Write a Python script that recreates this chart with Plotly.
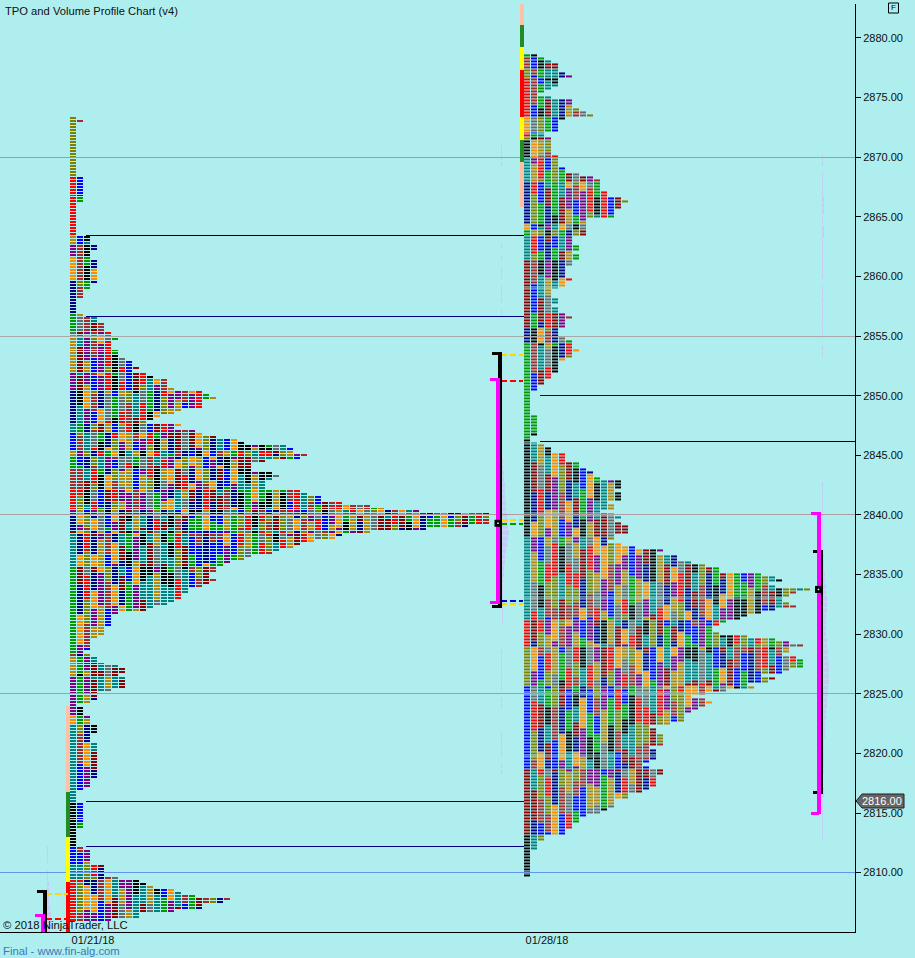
import plotly.graph_objects as go

# ---------- palette of the half-hour periods (cycle order of the chart) ----------
PERIOD_NAMES = ["teal", "maroon", "navy", "orange", "purple", "gold", "gray",
                "red", "olive", "brown", "blue", "green", "black"]
PERIOD_COLORS = ["#008080", "#8B0000", "#000080", "#FF8C00", "#800080", "#B8860B", "#696969",
                 "#FF0000", "#808000", "#A52A2A", "#0000FF", "#009900", "#000000"]

# ---------- left profile (01/21/18): cells per 0.25 price row, top to bottom ----------
LEFT_TOP = 2873.25
LEFT_W = [1, 2, 1, 1, 1, 1, 1, 1, 1, 1, 1, 1, 1, 1, 1, 1, 1, 1, 1, 1,
          2, 2, 2, 2, 2, 2, 2, 2, 2, 1, 1, 1, 1, 1, 1, 1, 1, 1, 1, 1,
          3, 3, 3, 4, 4, 3, 3, 3, 4, 4, 4, 4, 4, 4, 4, 4, 3, 3, 2, 2, 2,
          1, 1, 1, 1, 1, 2, 4, 4, 5, 5,
          5, 6, 6, 7, 6, 6, 6, 7, 7, 7, 8, 9, 9, 10, 9, 11, 12, 14, 14, 14, 15,
          19, 20, 21, 19, 19, 19, 16, 15, 13, 12, 11, 16, 15, 18, 19, 21, 24, 25,
          31, 32, 32, 34, 33, 28, 26, 26, 26, 29, 30, 29, 28, 28, 28,
          33, 34, 36, 36, 39, 43, 45, 50, 60, 60, 60, 60, 57, 51, 43, 39, 38, 35, 33,
          32, 30, 29,
          26, 25, 23, 22, 21, 21, 20, 20, 21, 20, 19, 17, 17, 16,
          16, 15, 14, 12, 11, 7, 6, 6, 6, 6, 5, 5, 5, 4, 3, 3, 3, 3, 2, 3, 4, 4, 5,
          7, 8, 8, 7, 8, 8, 8, 8, 6, 4, 4, 4, 3, 1, 2, 2, 2, 3, 3, 3, 4, 4, 4, 3, 3, 3,
          4, 4, 4, 4, 4, 4, 4, 4, 4, 4, 4, 4, 3, 3, 3, 2, 1, 1, 1, 1,
          2, 2, 2, 2, 2, 2, 2, 2, 2, 1, 1, 1, 1, 1, 1, 2, 3, 3, 3, 3, 3, 5, 5, 5, 5, 7,
          10, 11, 12, 15, 16, 18, 23, 22, 19, 19, 15, 10, 10, 6]
LEFT_RUN_ROWS = [0, 20, 40, 43, 47, 55, 66, 72, 73, 86, 92, 103, 106, 112, 114, 118, 125,
                 132, 134, 139, 140, 151, 180, 181, 188, 201, 204, 230, 245, 251, 256]
LEFT_RUN_NAMES = ["olive", "red", "gold", "purple", "orange", "navy", "green", "gray", "gold",
                  "purple", "navy", "teal", "blue", "gold", "green", "brown", "red", "purple",
                  "navy", "maroon", "teal", "green", "brown", "gold", "purple", "orange", "teal",
                  "black", "blue", "teal", "red"]

# ---------- right profile (01/28/18) ----------
RIGHT_TOP = 2878.5
RIGHT_W = [2, 3, 4, 5, 5, 5, 6, 7, 5, 5, 5, 4, 3, 2, 4, 7, 7, 7, 8, 9, 10, 6, 5, 5, 5, 5, 3, 3, 4,
           4, 4, 4, 4, 4, 5,
           5, 5, 5, 6, 6, 8, 10, 11, 11, 11, 11, 12, 12, 14, 15, 14, 14, 13, 13, 13,
           9, 9, 9, 9, 9, 9, 7, 7, 7, 8, 8, 7, 8, 8, 7, 7, 6, 6, 6, 6, 7, 6, 6, 5, 4, 4, 4,
           5, 5, 4, 5, 5, 6, 7, 6, 6, 6, 5, 5, 5, 6, 7, 7, 7, 8, 7, 7, 6, 5, 5, 5, 5, 4, 4,
           3, 3, 2, 2,
           1, 1, 1, 1, 1, 1, 1, 1, 2, 2, 2, 2, 2, 2, 2, 1, 1,
           2, 3, 4, 4, 6, 6, 6, 8, 8, 9, 10, 10, 11, 14, 14, 14, 13, 14, 14, 14, 12, 13, 13,
           11, 13, 14, 13, 14, 15, 15, 15, 13, 13, 12, 14, 16, 20, 19, 22, 22, 24, 26, 28, 28,
           34, 36, 37, 35, 36, 41, 39, 38, 37, 37, 38, 39, 36, 34, 32, 31, 29, 28, 27, 27, 28,
           32, 36, 38, 40, 38, 38, 37, 39, 40, 40, 40, 38, 37, 34, 36, 35, 32, 33, 29, 26, 24,
           26, 27, 26, 25, 24, 23, 23, 23, 21, 18, 19, 19, 20, 20, 20, 20, 18, 19, 19, 19, 19,
           18, 17, 18, 20, 20, 19, 19, 19, 19, 18, 17, 15, 15, 13, 13, 13, 12, 11, 9, 8, 8, 7,
           7, 6, 6, 3, 3, 2, 2, 2, 1, 1, 1, 1, 1, 1, 1, 1, 1]
RIGHT_RUN_ROWS = [0, 1, 5, 8, 21, 26, 28, 29, 35, 43, 57, 59, 61, 69, 92, 97, 129, 162, 190,
                  199, 212, 240, 262]
RIGHT_RUN_NAMES = ["green", "brown", "olive", "red", "orange", "red", "olive", "black", "teal",
                   "navy", "orange", "green", "teal", "maroon", "navy", "green", "black", "teal",
                   "red", "olive", "blue", "maroon", "black"]

# ---------- session range bars ----------
LEFT_BAR_PRICES = [2824.0, 2816.75, 2813.0, 2809.25, 2805.0]
LEFT_BAR_COLORS = ["#FFC0A8", "#228B22", "#FFFF00", "#FF0000"]
RIGHT_BAR_PRICES = [2883.0, 2881.1, 2879.25, 2877.3, 2873.4, 2871.45, 2869.6, 2865.85]
RIGHT_BAR_COLORS = ["#FFC0A8", "#228B22", "#FFFF00", "#FF0000", "#FFFF00", "#228B22", "#FFC0A8"]

# ---------- round-number lines, naked POC lines ----------
ROUND_PRICES = [2870, 2855, 2840, 2825, 2810]
ROUND_COLORS = ["#A0A0A0", "#A9A9A9", "#B09CA0", "#96A0C0", "#6495ED"]
NAKED_PRICES = [2863.4, 2856.6, 2815.95, 2812.2, 2850.0, 2846.15]
NAKED_STARTS = [86, 86, 86, 86, 540, 540]
NAKED_ENDS = [524, 524, 524, 524, 855, 855]
NAKED_COLORS = ["#000000", "#000080", "#000080", "#000080", "#000080", "#000000"]

# ---------- value-area / range brackets: x of stem, x of cap, top, bottom ----------
RANGE_BRACKETS = [(45, 37, 2808.4, 2804.0), (500, 492, 2853.55, 2832.35), (821, 813, 2836.9, 2816.7)]
VALUE_BRACKETS = [(43, 35, 2806.4, 2804.0), (498, 490, 2851.35, 2832.65), (819, 811, 2840.1, 2815.0)]
POC_MARKS = [(498, 2839.3), (818.5, 2833.75)]

# ---------- dashed session-level lines ----------
DASH_PRICES = [2808.2, 2806.15, 2853.4, 2851.2, 2839.6, 2839.25, 2832.75, 2832.55]
DASH_STARTS = [46, 46, 501, 501, 501, 501, 501, 501]
DASH_ENDS = [68, 68, 523, 523, 523, 523, 523, 523]
DASH_COLORS = ["#FFD700", "#FF0000", "#FFD700", "#FF0000", "#FFD700", "#009900", "#0000CD", "#FFD700"]

# ---------- faint volume profiles (0.5 price step) ----------
VOL_COLOR = "#C4CCF6"
RIGHT_VOL_TOP = 2870.0
RIGHT_VOL = [1, 1, 0, 1, 1, 1, 1, 2, 2, 2, 1, 1, 2, 2, 1, 1, 1, 1, 1, 1, 1, 0, 1, 1, 1, 1, 1, 1, 1, 1, 1, 0, 1, 1,
             0, 0, 0, 0, 0, 0, 0, 0, 0, 0, 0, 0, 0, 0, 0, 0, 0, 0, 0, 0, 0,
             1, 1, 1, 1, 1, 1, 1, 1, 1, 1, 1, 1,
             2, 2, 2, 3, 3, 4, 4, 5, 5, 5, 4, 4, 4, 4,
             5, 5, 6, 6, 7, 7, 7, 7, 6, 6, 5, 5, 4, 4, 3, 3,
             3, 2, 2, 2, 2, 2, 2, 1, 1, 2, 2, 1, 1, 1, 1, 1, 1, 1]
MID_VOL_TOP = 2844.5
MID_VOL = [1, 1, 2, 2, 3, 3, 3, 4, 4, 5, 6, 6, 7, 6, 5, 4, 3, 3, 2, 2, 1, 1, 1, 1, 1, 1, 1, 1]
MID_UPPER_TOP = 2871.0
MID_UPPER = [1, 1, 1, 1, 0, 0, 0, 0, 0, 0, 0, 0, 0, 0, 0, 0, 0, 1, 0, 1, 0, 1, 1, 0, 1, 1, 1, 0, 1]
MID_LOWER_TOP = 2828.5
MID_LOWER = [1, 1, 1, 1, 1, 1, 1, 0, 1, 1, 0, 0, 0, 0, 1, 1, 1, 1, 0, 1, 1]
LEFT_VOL_TOP = 2812.0
LEFT_VOL = [1, 1, 1, 0, 1, 1, 2, 2, 2, 2, 3, 4, 4, 4, 3, 2]

# ---------- tick labels and texts ----------
DATE_TICKS = [93, 547]
DATE_LABELS = ["01/21/18", "01/28/18"]
LAST_PRICE = 2816.0

FONT = "Liberation Sans"
BG = "#AFEEEE"
X_MAX, Y_LOW, Y_HIGH = 855, 2805.02, 2882.85
M_L, M_R, M_T, M_B = 0, 60, 4, 26
PLOT_H = 958 - M_T - M_B


def px(x):
    return x / X_MAX


def py(y):
    return (958 - M_B - y) / PLOT_H


def profile_heatmap(widths, top, run_rows, run_names, first_center):
    n = len(widths)
    cols = max(widths)
    starts = []
    run = 0
    for i in range(n):
        while run + 1 < len(run_rows) and run_rows[run + 1] <= i:
            run += 1
        starts.append(PERIOD_NAMES.index(run_names[run]))
    z = []
    for i in range(n):
        row = []
        for j in range(cols):
            if j < widths[i]:
                # later periods visit a price in shorter stretches than the first column's runs
                stretch = 5 + (j * 5) % 7
                skipped = (i + 3 * j) // stretch if j else 0
                row.append((starts[i] + j + skipped) % 13)
            else:
                row.append(None)
        z.append(row)
    z.reverse()
    y = [top - 0.25 * (n - 1 - k) for k in range(n)]
    x = [first_center + 7 * j for j in range(cols)]
    scale = []
    for k, c in enumerate(PERIOD_COLORS):
        scale += [[k / 13, c], [(k + 1) / 13, c]]
    return go.Heatmap(z=z, x=x, y=y, zmin=-0.5, zmax=12.5, colorscale=scale, showscale=False,
                      xgap=1, ygap=1, hoverinfo="skip")


def line(xs, ys, color, width=1, dash=None):
    return go.Scatter(x=xs, y=ys, mode="lines", hoverinfo="skip",
                      line=dict(color=color, width=width, dash=dash))


def volume(top, values, base):
    return go.Bar(orientation="h", y=[top - 0.5 * i for i in range(len(values))], x=values, base=base,
                  width=0.42, marker=dict(color=VOL_COLOR, line=dict(width=0)), hoverinfo="skip")


fig = go.Figure()

for p, c in zip(ROUND_PRICES, ROUND_COLORS):
    fig.add_trace(line([0, X_MAX], [p, p], c))

fig.add_trace(volume(RIGHT_VOL_TOP, RIGHT_VOL, 822))
fig.add_trace(volume(MID_VOL_TOP, MID_VOL, 502))
fig.add_trace(volume(MID_UPPER_TOP, MID_UPPER, 501))
fig.add_trace(volume(MID_LOWER_TOP, MID_LOWER, 501))
fig.add_trace(volume(LEFT_VOL_TOP, LEFT_VOL, 47))

for p, a, b, c in zip(NAKED_PRICES, NAKED_STARTS, NAKED_ENDS, NAKED_COLORS):
    fig.add_trace(line([a, b], [p, p], c))

for i, c in enumerate(LEFT_BAR_COLORS):
    fig.add_trace(line([68, 68], LEFT_BAR_PRICES[i:i + 2], c, 4))
for i, c in enumerate(RIGHT_BAR_COLORS):
    fig.add_trace(line([522, 522], RIGHT_BAR_PRICES[i:i + 2], c, 4))

fig.add_trace(profile_heatmap(LEFT_W, LEFT_TOP, LEFT_RUN_ROWS, LEFT_RUN_NAMES, 73.5))
fig.add_trace(profile_heatmap(RIGHT_W, RIGHT_TOP, RIGHT_RUN_ROWS, RIGHT_RUN_NAMES, 527.5))

for p, a, b, c in zip(DASH_PRICES, DASH_STARTS, DASH_ENDS, DASH_COLORS):
    fig.add_trace(line([a, b], [p, p], c, 2, "6px,3px"))

for stem, cap, top, bot in RANGE_BRACKETS:
    fig.add_trace(line([stem, stem], [top + 0.12, bot - 0.12], "#000000", 4))
    fig.add_trace(line([cap, stem], [top, top], "#000000", 3))
    fig.add_trace(line([cap, stem], [bot, bot], "#000000", 3))
for stem, cap, top, bot in VALUE_BRACKETS:
    fig.add_trace(line([stem, stem], [top + 0.12, bot - 0.12], "#FF00FF", 4))
    fig.add_trace(line([cap, stem], [top, top], "#FF00FF", 3))
    fig.add_trace(line([cap, stem], [bot, bot], "#FF00FF", 3))
for x, p in POC_MARKS:
    fig.add_trace(go.Scatter(x=[x], y=[p], mode="markers", hoverinfo="skip",
                             marker=dict(symbol="square", color="#000000", size=7, line=dict(width=0))))
    fig.add_trace(go.Scatter(x=[x], y=[p], mode="markers", hoverinfo="skip",
                             marker=dict(symbol="square", color="#FFFFFF", size=1.5, line=dict(width=0))))

annotations = [
    dict(x=px(3), y=py(11), text="TPO and Volume Profile Chart (v4)", xanchor="left", yanchor="middle",
         font=dict(size=11.2, color="#101010", family=FONT)),
    dict(x=px(1), y=py(925), text="© 2018 NinjaTrader, LLC", xanchor="left", yanchor="middle",
         font=dict(size=11.3, color="#101010", family=FONT)),
    dict(x=px(1), y=py(951), text="Final - www.fin-alg.com", xanchor="left", yanchor="middle",
         font=dict(size=11.3, color="#3C78B4", family=FONT)),
    dict(x=px(893.5), y=py(8), text="F", xanchor="center", yanchor="middle",
         font=dict(size=8, color="#000000", family=FONT)),
    dict(x=px(882), y=py(801), text=f"{LAST_PRICE:.2f}", xanchor="center", yanchor="middle",
         font=dict(size=11, color="#FFFFFF", family=FONT)),
]
for a in annotations:
    a.update(xref="paper", yref="paper", showarrow=False, align="left")

shapes = [
    dict(type="rect", xref="paper", yref="paper", x0=px(888.5), x1=px(898.5), y0=py(3), y1=py(13),
         line=dict(color="#000000", width=1), fillcolor=BG, layer="below"),
    dict(type="path", xref="paper", yref="paper",
         path=f"M {px(856)} {py(801)} L {px(862)} {py(794)} L {px(904)} {py(794)} "
              f"L {px(904)} {py(808)} L {px(862)} {py(808)} Z",
         line=dict(color="#202020", width=1), fillcolor="#666666"),
]

fig.update_layout(
    width=915, height=958, margin=dict(l=M_L, r=M_R, t=M_T, b=M_B, autoexpand=False),
    paper_bgcolor=BG, plot_bgcolor=BG, showlegend=False, barmode="overlay", hovermode=False,
    annotations=annotations, shapes=shapes,
    font=dict(family=FONT, color="#101010"),
    xaxis=dict(range=[0, X_MAX], showgrid=False, zeroline=False, showline=True, linecolor="#000000",
               linewidth=1, ticks="", tickmode="array", tickvals=DATE_TICKS, ticktext=DATE_LABELS,
               ticklabelstandoff=-2, tickfont=dict(size=11, family=FONT, color="#101010")),
    yaxis=dict(range=[Y_LOW, Y_HIGH], side="right", showgrid=False, zeroline=False, showline=True,
               linecolor="#000000", linewidth=1, ticks="outside", ticklen=5, tickcolor="#000000",
               dtick=5, tick0=2810, tickformat=".2f", tickfont=dict(size=11, family=FONT, color="#101010")),
)

CRISP = ("var crisp=function(){document.querySelectorAll('.scatterlayer .js-line')"
         ".forEach(function(e){e.style.shapeRendering='crispEdges';});};"
         "crisp();setTimeout(crisp,50);setTimeout(crisp,300);"
         "document.body.style.margin='0';document.body.style.overflow='hidden';")
fig.write_html("out.html", config={"displayModeBar": False}, post_script=CRISP)
